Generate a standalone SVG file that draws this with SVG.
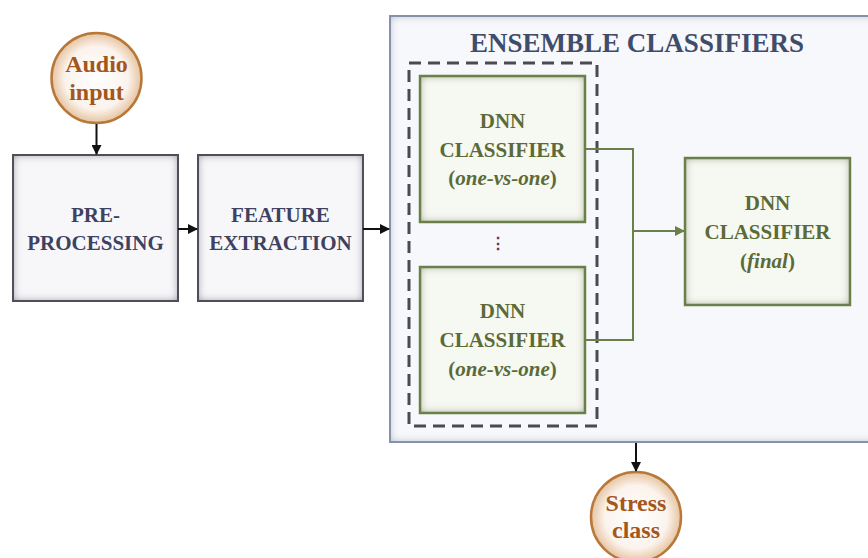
<svg xmlns="http://www.w3.org/2000/svg" width="868" height="558" viewBox="0 0 868 558">
<defs>
<style>
.t{font-family:"Liberation Serif","Times New Roman",serif;font-weight:bold;text-anchor:middle}
.gray{fill:#3e4260;font-size:21px}
.green{fill:#5b6a37;font-size:21px}
.brown{fill:#a5561c;font-size:24px}
.title{fill:#3f4d6b;font-size:27px}
.conn{fill:none;stroke:#111;stroke-width:2}
.gconn{fill:none;stroke:#6b7f4a;stroke-width:2}
</style>
<filter id="inGray" x="-5%" y="-5%" width="110%" height="110%">
<feFlood flood-color="#7a7a88"/>
<feComposite in2="SourceAlpha" operator="out"/>
<feGaussianBlur stdDeviation="4"/>
<feComposite in2="SourceAlpha" operator="in"/>
<feMerge><feMergeNode in="SourceGraphic"/><feMergeNode/></feMerge>
</filter>
<filter id="inGreen" x="-5%" y="-5%" width="110%" height="110%">
<feFlood flood-color="#8c9a70"/>
<feComposite in2="SourceAlpha" operator="out"/>
<feGaussianBlur stdDeviation="4"/>
<feComposite in2="SourceAlpha" operator="in"/>
<feMerge><feMergeNode in="SourceGraphic"/><feMergeNode/></feMerge>
</filter>
<filter id="inBlue" x="-5%" y="-5%" width="110%" height="110%">
<feFlood flood-color="#a8b2c4"/>
<feComposite in2="SourceAlpha" operator="out"/>
<feGaussianBlur stdDeviation="4"/>
<feComposite in2="SourceAlpha" operator="in"/>
<feMerge><feMergeNode in="SourceGraphic"/><feMergeNode/></feMerge>
</filter>
<radialGradient id="circ" cx="50%" cy="50%" r="50%">
<stop offset="0%" stop-color="#ffffff"/>
<stop offset="70%" stop-color="#fbf3ec"/>
<stop offset="100%" stop-color="#e6c3a0"/>
</radialGradient>
<marker id="ah" viewBox="0 0 10 10" refX="9" refY="5" markerWidth="5" markerHeight="5" orient="auto" markerUnits="strokeWidth">
<path d="M0,0 L10,5 L0,10 z" fill="#111"/>
</marker>
<marker id="gh" viewBox="0 0 10 10" refX="9" refY="5" markerWidth="5" markerHeight="5" orient="auto" markerUnits="strokeWidth">
<path d="M0,0 L10,5 L0,10 z" fill="#6b7f4a"/>
</marker>
</defs>
<rect width="868" height="558" fill="#ffffff"/>

<g id="ensemble">
<rect x="390" y="16" width="490" height="426" fill="#f7f8fb" filter="url(#inBlue)"/>
<rect x="390" y="16" width="490" height="426" fill="none" stroke="#8592aa" stroke-width="2"/>
<text class="t title" x="637" y="52">ENSEMBLE CLASSIFIERS</text>
</g>

<g id="group-dashed">
<rect x="409" y="63" width="188" height="363" fill="none" stroke="#4a4a52" stroke-width="3" stroke-dasharray="12,7"/>
</g>

<g id="audio-input">
<circle cx="96.5" cy="78" r="45" fill="url(#circ)" stroke="#b87838" stroke-width="2.5"/>
<text class="t brown" x="96.5" y="72">Audio</text>
<text class="t brown" x="96.5" y="100">input</text>
</g>

<g id="preprocessing">
<rect x="13" y="155" width="165" height="146" fill="#f7f7fa" filter="url(#inGray)"/>
<rect x="13" y="155" width="165" height="146" fill="none" stroke="#4f4f5a" stroke-width="2"/>
<text class="t gray" x="95.5" y="222">PRE-</text>
<text class="t gray" x="95.5" y="250">PROCESSING</text>
</g>

<g id="feature-extraction">
<rect x="198" y="155" width="165" height="146" fill="#f7f7fa" filter="url(#inGray)"/>
<rect x="198" y="155" width="165" height="146" fill="none" stroke="#4f4f5a" stroke-width="2"/>
<text class="t gray" x="280.5" y="222">FEATURE</text>
<text class="t gray" x="280.5" y="250">EXTRACTION</text>
</g>

<g id="dnn-1">
<rect x="420" y="76" width="165" height="146" fill="#f6f8f2" filter="url(#inGreen)"/>
<rect x="420" y="76" width="165" height="146" fill="none" stroke="#6b7f4a" stroke-width="2.5"/>
<text class="t green" x="502.5" y="128">DNN</text>
<text class="t green" x="502.5" y="157">CLASSIFIER</text>
<text class="t green" x="502.5" y="185">(<tspan font-style="italic">one-vs-one</tspan>)</text>
</g>

<g id="dots">
<text class="t" x="498" y="249" fill="#5a3a6a" font-size="16">⋮</text>
</g>

<g id="dnn-2">
<rect x="420" y="267" width="165" height="146" fill="#f6f8f2" filter="url(#inGreen)"/>
<rect x="420" y="267" width="165" height="146" fill="none" stroke="#6b7f4a" stroke-width="2.5"/>
<text class="t green" x="502.5" y="318">DNN</text>
<text class="t green" x="502.5" y="347">CLASSIFIER</text>
<text class="t green" x="502.5" y="376">(<tspan font-style="italic">one-vs-one</tspan>)</text>
</g>

<g id="dnn-final">
<rect x="685" y="158" width="165" height="147" fill="#f6f8f2" filter="url(#inGreen)"/>
<rect x="685" y="158" width="165" height="147" fill="none" stroke="#6b7f4a" stroke-width="2.5"/>
<text class="t green" x="767.5" y="210">DNN</text>
<text class="t green" x="767.5" y="239">CLASSIFIER</text>
<text class="t green" x="767.5" y="268">(<tspan font-style="italic">final</tspan>)</text>
</g>

<g id="stress-class">
<circle cx="636" cy="517" r="45" fill="url(#circ)" stroke="#b87838" stroke-width="2.5"/>
<text class="t brown" x="636" y="511">Stress</text>
<text class="t brown" x="636" y="538">class</text>
</g>

<g id="connectors">
<line class="conn" x1="96.5" y1="124" x2="96.5" y2="154" marker-end="url(#ah)"/>
<line class="conn" x1="178" y1="229" x2="197" y2="229" marker-end="url(#ah)"/>
<line class="conn" x1="363" y1="229" x2="389" y2="229" marker-end="url(#ah)"/>
<path class="gconn" d="M585,149 H633 V340 H585"/>
<line class="gconn" x1="633" y1="231" x2="684" y2="231" marker-end="url(#gh)"/>
<line class="conn" x1="636" y1="443" x2="636" y2="471" marker-end="url(#ah)"/>
</g>
</svg>
